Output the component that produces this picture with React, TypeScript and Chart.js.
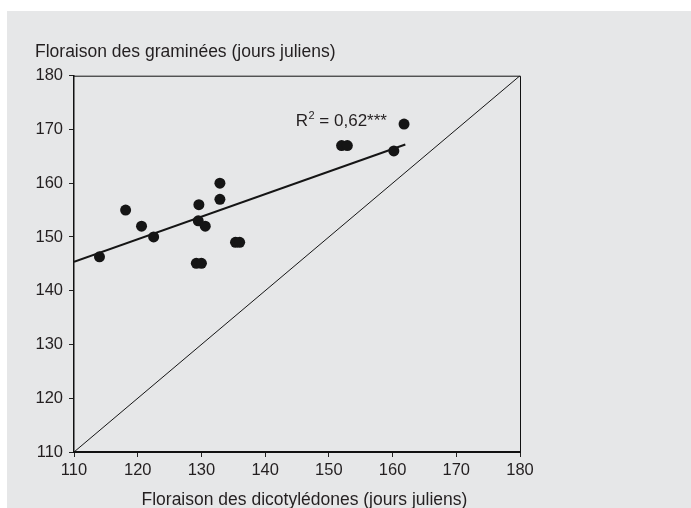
import React, { useEffect, useRef } from 'react';
import { Chart, registerables } from 'chart.js';

Chart.register(...registerables);

// Floraison des dicotylédones (x) vs graminées (y), jours juliens
const dicotDays = [114.0, 118.1, 120.6, 122.5, 129.6, 129.5, 130.6, 132.9, 132.9, 129.2, 130.0, 135.35, 136.0, 152.0, 152.9, 161.8, 160.2];
const grassDays = [146.3, 155.0, 152.0, 150.0, 156.0, 153.0, 152.0, 160.0, 157.0, 145.1, 145.1, 149.0, 149.0, 167.0, 167.0, 171.0, 166.0];

// Regression line endpoints
const trendX = [110, 162];
const trendY = [145.4, 167.2];

// 1:1 line
const identityX = [110, 180];
const identityY = [110, 180];

const axisMin = 110;
const axisMax = 180;
const axisStep = 10;

const yTitle = 'Floraison des graminées (jours juliens)';
const xTitle = 'Floraison des dicotylédones (jours juliens)';
const r2Main = 'R';
const r2Sup = '2';
const r2Rest = ' = 0,62***';
const r2Pos = { x: 144.8, y: 170.6 };

const FONT = '"Liberation Sans", Arial, Helvetica, sans-serif';
const TEXT = '#231f20';
const BG = '#e6e7e8';

const decorPlugin = {
  id: 'decor',
  afterDraw(chart: any) {
    const { ctx, chartArea, scales } = chart;
    const { left, right, top, bottom } = chartArea;
    ctx.save();
    // top & right box lines
    ctx.strokeStyle = '#111';
    ctx.lineWidth = 1;
    ctx.beginPath();
    ctx.moveTo(left, top + 0.5);
    ctx.lineTo(right + 0.5, top + 0.5);
    ctx.lineTo(right + 0.5, bottom);
    ctx.stroke();

    ctx.fillStyle = TEXT;
    ctx.textBaseline = 'alphabetic';
    ctx.textAlign = 'left';
    ctx.font = `17.5px ${FONT}`;
    ctx.fillText(yTitle, left - 39, top - 18.7);
    ctx.fillText(xTitle, left + 67.5, bottom + 53);

    // R² annotation
    const px = scales.x.getPixelForValue(r2Pos.x);
    const py = scales.y.getPixelForValue(r2Pos.y);
    ctx.font = `17px ${FONT}`;
    ctx.fillText(r2Main, px, py);
    let w = ctx.measureText(r2Main).width;
    ctx.font = `11px ${FONT}`;
    ctx.fillText(r2Sup, px + w + 0.5, py - 7);
    w += ctx.measureText(r2Sup).width + 0.5;
    ctx.font = `17px ${FONT}`;
    ctx.fillText(r2Rest, px + w, py);
    ctx.restore();
  },
};

export default function App() {
  const ref = useRef<HTMLCanvasElement>(null);

  useEffect(() => {
    if (!ref.current) return;
    const toPts = (xs: number[], ys: number[]) => xs.map((x, i) => ({ x, y: ys[i] }));
    const tickFont = { family: FONT, size: 16.5 };
    const chart = new Chart(ref.current, {
      type: 'scatter',
      data: {
        datasets: [
          {
            type: 'scatter',
            data: toPts(dicotDays, grassDays),
            backgroundColor: '#151515',
            borderWidth: 0,
            pointRadius: 5.5,
            pointHoverRadius: 5.5,
            order: 0,
          },
          {
            type: 'line',
            data: toPts(trendX, trendY),
            borderColor: '#151515',
            borderWidth: 2,
            pointRadius: 0,
            fill: false,
            order: 1,
          },
          {
            type: 'line',
            data: toPts(identityX, identityY),
            borderColor: '#151515',
            borderWidth: 1,
            pointRadius: 0,
            fill: false,
            order: 2,
          },
        ] as any,
      },
      options: {
        animation: false,
        responsive: false,
        layout: { padding: { left: 0, top: 64.7, right: 171, bottom: 0 } },
        plugins: { legend: { display: false }, tooltip: { enabled: false } },
        scales: {
          x: {
            type: 'linear',
            min: axisMin,
            max: axisMax,
            afterFit: (s: any) => { s.height = 56; },
            ticks: { stepSize: axisStep, color: TEXT, font: tickFont, padding: 4, maxRotation: 0, autoSkip: false },
            grid: { drawOnChartArea: false, drawTicks: true, tickLength: 5, tickColor: '#222', tickWidth: 1 },
            border: { display: true, color: '#111', width: 2 },
          },
          y: {
            type: 'linear',
            min: axisMin,
            max: axisMax,
            afterFit: (s: any) => { s.width = 67; },
            ticks: { stepSize: axisStep, color: TEXT, font: tickFont, padding: 6, autoSkip: false },
            grid: { drawOnChartArea: false, drawTicks: true, tickLength: 5, tickColor: '#222', tickWidth: 1 },
            border: { display: true, color: '#111', width: 1.5 },
          },
        },
      } as any,
      plugins: [decorPlugin],
    });
    return () => chart.destroy();
  }, []);

  return (
    <div style={{ position: 'absolute', left: 7, top: 11, width: 684, height: 497, background: BG, overflow: 'hidden' }}>
      <canvas ref={ref} width={684} height={497} style={{ display: 'block', width: 684, height: 497 }} />
    </div>
  );
}
